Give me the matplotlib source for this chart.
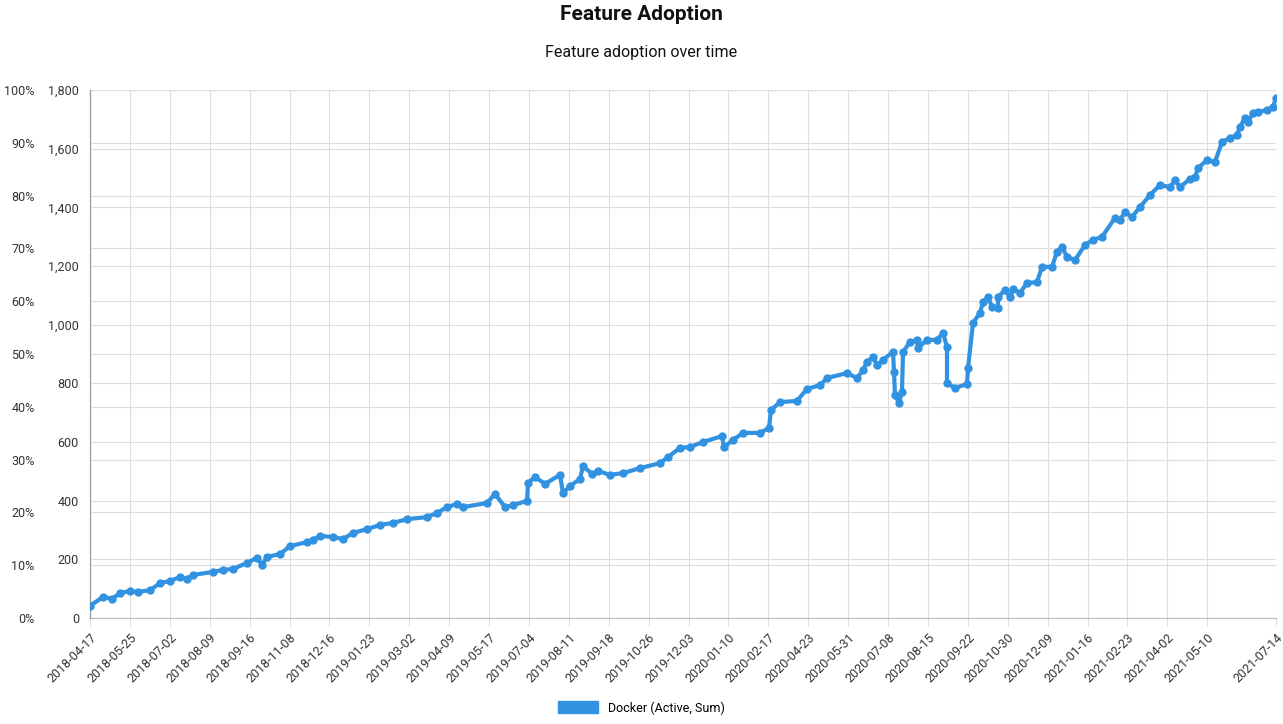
import matplotlib
matplotlib.use("Agg")
import matplotlib.pyplot as plt
from matplotlib.patches import Patch

plt.rcParams['font.family'] = ['Roboto', 'DejaVu Sans']

day_offsets = [0,13,22,30,40,48,60,70,80,90,97,103,123,133,143,157,167,172,177,190,200,217,223,230,243,253,263,277,290,303,317,337,347,357,367,373,397,405,415,423,437,438,445,455,470,473,480,490,493,502,508,
               520,533,550,570,578,590,600,613,632,634,643,653,670,679,681,690,707,717,730,737,757,767,773,777,783,787,793,803,804,805,809,812,813,820,827,828,837,847,853,857,857,865,877,878,883,890,
               893,898,902,908,908,915,920,923,930,937,947,952,962,967,972,977,985,995,1003,1012,1025,1030,1035,1042,1050,1060,1070,1080,1085,1090,1100,1105,1108,1117,1125,1132,1140,1147,1150,1155,1158,1163,1168,1177,1183,1186]
values = [41,72,65,85,92,89,95,119,126,140,133,147,157,164,167,188,205,181,208,218,245,259,266,280,276,269,290,303,317,324,337,344,358,378,389,378,392,423,378,385,399,460,481,457,488,426,450,474,518,491,501,
          488,494,511,528,549,580,583,600,620,583,607,631,631,648,709,736,740,781,794,818,835,818,845,873,890,862,880,907,839,760,733,771,907,941,948,920,948,948,972,924,801,784,798,852,1006,1040,
          1077,1094,1060,1057,1094,1118,1094,1121,1108,1142,1145,1197,1197,1248,1265,1231,1220,1272,1289,1299,1364,1357,1384,1367,1401,1442,1476,1469,1493,1469,1497,1503,1534,1561,1555,1623,1636,1647,1674,1705,1691,1722,1725,1732,1742,1773]
tick_labels = ["2018-04-17","2018-05-25","2018-07-02","2018-08-09","2018-09-16","2018-11-08","2018-12-16",
               "2019-01-23","2019-03-02","2019-04-09","2019-05-17","2019-07-04","2019-08-11","2019-09-18",
               "2019-10-26","2019-12-03","2020-01-10","2020-02-17","2020-04-23","2020-05-31","2020-07-08",
               "2020-08-15","2020-09-22","2020-10-30","2020-12-09","2021-01-16","2021-02-23","2021-04-02",
               "2021-05-10","2021-07-14"]
pct_ticks = [0,10,20,30,40,50,60,70,80,90,100]
val_ticks = [0,200,400,600,800,1000,1200,1400,1600,1800]

end = 1186
step = 39.9
tick_pos = [i * step for i in range(len(tick_labels) - 1)] + [end]

fig = plt.figure(figsize=(12.83, 7.24), dpi=100)
ax = fig.add_axes([90/1283, 1-618/724, 1186/1283, 528/724])
ax2 = ax.twinx()

blue = "#3092e0"
ax2.plot(day_offsets, values, color=blue, lw=3, marker='o', ms=5, zorder=3)
ax2.set_ylim(0, 1800)
ax2.set_yticks(val_ticks)
ax2.set_yticklabels([f"{v:,}" for v in val_ticks])
ax2.yaxis.tick_left()
ax2.tick_params(axis='y', length=0, pad=8, labelsize=9, colors='#333333')
ax2.grid(True, axis='y', color='#dddddd', lw=0.8)

ax.set_ylim(0, 100)
ax.set_yticks(pct_ticks)
ax.set_yticklabels([f"{p}%" for p in pct_ticks])
ax.tick_params(axis='y', length=0, pad=40, labelsize=9, colors='#333333')
ax.set_xlim(0, end)
ax.set_xticks(tick_pos)
ax.set_xticklabels(tick_labels, rotation=45, ha='right', rotation_mode='anchor', fontsize=9, color='#333333')
ax.tick_params(axis='x', length=6, color='#dddddd')
ax.grid(True, color='#dddddd', lw=0.8)
ax.set_axisbelow(True)
for a in (ax, ax2):
    for sp in ['top', 'right']:
        a.spines[sp].set_visible(False)
    a.spines['left'].set_color('#999999')
    a.spines['bottom'].set_color('#bbbbbb')
ax2.spines['bottom'].set_visible(False)

fig.text(0.5, 1-15/724, "Feature Adoption", ha='center', va='center', fontsize=15, fontweight='bold', color='#111111')
fig.text(0.5, 1-53/724, "Feature adoption over time", ha='center', va='center', fontsize=11.5, color='#111111')
fig.legend(handles=[Patch(color=blue, label="Docker (Active, Sum)")], loc='center', bbox_to_anchor=(0.5, 1-708/724),
           frameon=False, fontsize=9, handlelength=3.2, handleheight=1.1)
fig.savefig("out.png", dpi=100)
